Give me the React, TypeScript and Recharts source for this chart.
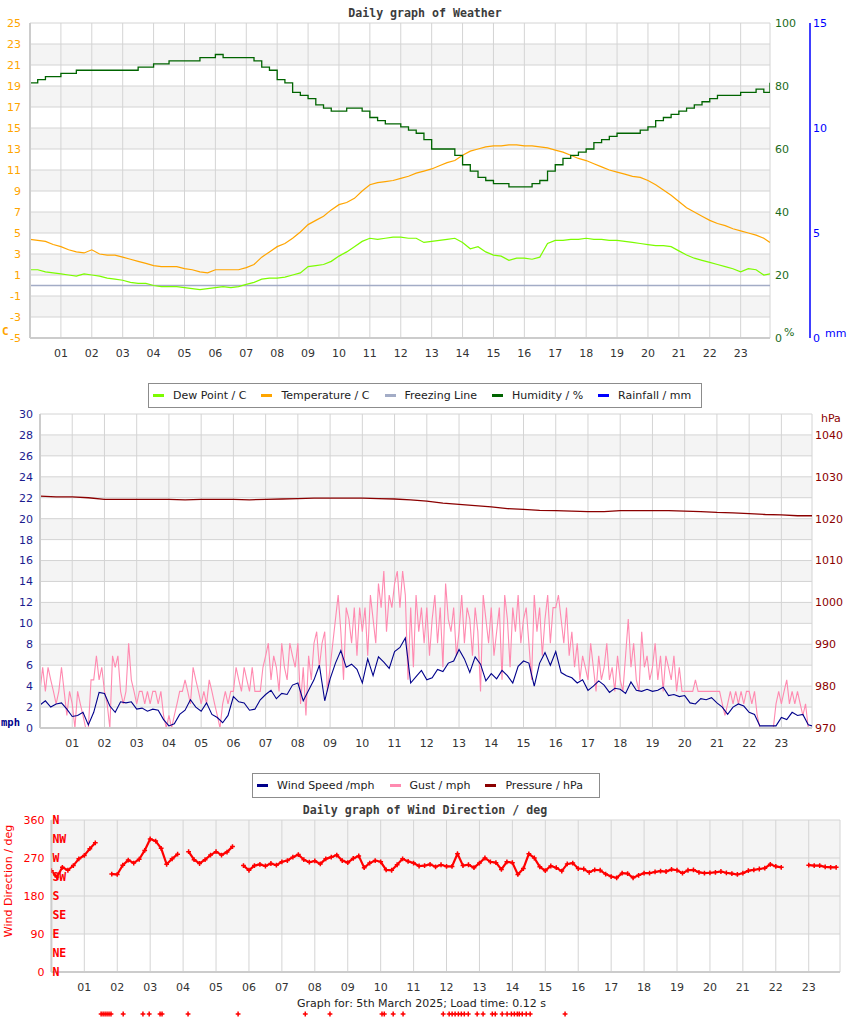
import React from 'react';
import { LineChart, Line, XAxis, YAxis, CartesianGrid, ReferenceLine, ScatterChart, Scatter, ComposedChart } from 'recharts';

// ---------- axis ticks & labels ----------
const END = 23.95;
const HOUR_TICKS = [1, 2, 3, 4, 5, 6, 7, 8, 9, 10, 11, 12, 13, 14, 15, 16, 17, 18, 19, 20, 21, 22, 23];
const HOUR_LABELS = ['01', '02', '03', '04', '05', '06', '07', '08', '09', '10', '11', '12', '13', '14', '15', '16', '17', '18', '19', '20', '21', '22', '23'];
const TEMP_TICKS = [-5, -3, -1, 1, 3, 5, 7, 9, 11, 13, 15, 17, 19, 21, 23, 25];
const HUM_TICKS = [0, 20, 40, 60, 80, 100];
const RAIN_TICKS = [0, 5, 10, 15];
const MPH_TICKS = [0, 2, 4, 6, 8, 10, 12, 14, 16, 18, 20, 22, 24, 26, 28, 30];
const HPA_TICKS = [970, 980, 990, 1000, 1010, 1020, 1030, 1040];
const DEG_TICKS = [0, 90, 180, 270, 360];
const COMPASS_TICKS = [0, 45, 90, 135, 180, 225, 270, 315, 360];
const COMPASS_LABELS = ['N', 'NE', 'E', 'SE', 'S', 'SW', 'W', 'NW', 'N'];

const WEATHER_LEGEND = [
  { label: 'Dew Point / C', color: '#7cfc00' },
  { label: 'Temperature / C', color: '#ffa500' },
  { label: 'Freezing Line', color: '#a3acc6' },
  { label: 'Humidity / %', color: '#006400' },
  { label: 'Rainfall / mm', color: '#0000ff' },
];
const WIND_LEGEND = [
  { label: 'Wind Speed /mph', color: '#00008b' },
  { label: 'Gust / mph', color: '#ff8ab0' },
  { label: 'Pressure / hPa', color: '#8b0000' },
];

// ---------- series (15 min steps) ----------
const temperature = [
  4.4, 4.3, 4.2, 3.9, 3.7, 3.4, 3.2, 3.1, 3.4, 3.0, 2.9, 2.9,
  2.7, 2.5, 2.3, 2.1, 1.9, 1.8, 1.8, 1.8, 1.6, 1.5, 1.3, 1.2,
  1.5, 1.5, 1.5, 1.5, 1.7, 2.0, 2.7, 3.2, 3.7, 4.0, 4.5, 5.1,
  5.8, 6.2, 6.6, 7.2, 7.7, 7.9, 8.3, 9.0, 9.6, 9.8, 9.9, 10.0,
  10.2, 10.4, 10.7, 10.9, 11.1, 11.4, 11.7, 11.9, 12.4, 12.8, 13.0, 13.2,
  13.3, 13.3, 13.4, 13.4, 13.3, 13.3, 13.2, 13.1, 12.9, 12.7, 12.4, 12.1,
  11.9, 11.6, 11.3, 11.0, 10.8, 10.6, 10.4, 10.3, 10.0, 9.6, 9.1, 8.6,
  8.0, 7.4, 7.0, 6.6, 6.2, 5.9, 5.7, 5.4, 5.2, 5.0, 4.8, 4.5, 4.1,
];
const dewPoint = [
  1.5, 1.5, 1.3, 1.2, 1.1, 1.0, 0.9, 1.1, 1.0, 0.9, 0.7, 0.6,
  0.5, 0.3, 0.2, 0.2, 0.0, -0.1, -0.1, -0.1, -0.2, -0.3, -0.4, -0.3,
  -0.2, -0.1, -0.2, -0.1, 0.1, 0.3, 0.6, 0.7, 0.7, 0.8, 1.0, 1.2,
  1.8, 1.9, 2.0, 2.3, 2.8, 3.2, 3.7, 4.2, 4.5, 4.4, 4.5, 4.6,
  4.6, 4.5, 4.5, 4.1, 4.2, 4.3, 4.4, 4.5, 4.1, 3.5, 3.7, 3.2,
  2.9, 2.8, 2.4, 2.6, 2.6, 2.5, 2.7, 4.0, 4.3, 4.3, 4.4, 4.4,
  4.5, 4.4, 4.4, 4.3, 4.3, 4.2, 4.1, 4.0, 3.9, 3.8, 3.8, 3.7,
  3.3, 2.9, 2.6, 2.4, 2.2, 2.0, 1.8, 1.6, 1.3, 1.6, 1.5, 1.0, 1.1,
];
const humidity = [
  81, 82, 83, 83, 84, 84, 85, 85, 85, 85, 85, 85,
  85, 85, 86, 86, 87, 87, 88, 88, 88, 88, 89, 89,
  90, 89, 89, 89, 89, 88, 86, 85, 82, 81, 78, 77,
  76, 74, 73, 72, 72, 73, 73, 72, 70, 69, 68, 68,
  67, 66, 65, 63, 60, 60, 60, 58, 55, 53, 51, 50,
  49, 49, 48, 48, 48, 49, 50, 53, 55, 57, 58, 59,
  60, 62, 63, 64, 65, 65, 65, 66, 67, 69, 70, 71,
  72, 73, 74, 75, 76, 77, 77, 77, 78, 78, 79, 78, 81,
];
// hourly
const rainfall = [0, 0, 0, 0, 0, 0, 0, 0, 0, 0, 0, 0, 0, 0, 0, 0, 0, 0, 0, 0, 0, 0, 0, 0, 0];

// ---------- wind (10 min steps) ----------
const windSpeed = [
  2.2, 2.6, 2.0, 2.3, 2.4, 1.8,
  1.1, 1.2, 1.5, 0.3, 1.5, 3.4,
  3.3, 2.1, 1.5, 2.5, 2.4, 2.5,
  1.8, 1.9, 1.6, 1.8, 1.7, 0.8,
  0.2, 0.4, 1.3, 1.7, 2.7, 2.0,
  1.6, 2.4, 1.3, 1.0, 0.5, 1.2,
  3.0, 2.5, 2.4, 1.7, 1.8, 2.7,
  3.2, 3.6, 2.8, 3.3, 3.2, 4.1,
  4.3, 2.6, 3.6, 4.6, 6.0, 2.6,
  4.7, 6.2, 7.4, 5.8, 6.1, 5.6,
  4.3, 6.6, 5.0, 6.8, 6.3, 5.7,
  7.3, 7.7, 8.6, 4.3, 4.9, 5.5,
  4.6, 4.8, 5.6, 5.4, 6.2, 6.4,
  7.5, 6.6, 5.3, 6.8, 6.1, 4.5,
  5.2, 4.7, 5.5, 5.0, 4.3, 5.9,
  6.4, 6.2, 4.0, 6.2, 7.2, 6.0,
  7.3, 5.3, 5.0, 4.8, 4.3, 4.6,
  3.6, 4.0, 4.5, 4.1, 3.4, 3.8,
  3.7, 3.3, 4.4, 3.6, 3.5, 3.7,
  3.5, 3.6, 3.9, 3.1, 3.2, 3.0,
  3.1, 2.4, 2.3, 2.8, 2.7, 2.9,
  2.4, 2.0, 1.3, 2.0, 2.3, 2.1,
  1.5, 1.3, 0.2, 0.2, 0.2, 0.2,
  1.0, 0.8, 1.5, 1.2, 1.3, 0.3,
  0.2,
];
// 5 min steps
const gust = [
  3.5, 5.8, 3.5, 5.8, 4.6, 3.5, 2.3, 3.5, 5.8, 3.5, 1.2, 3.5,
  2.3, 0, 3.5, 2.3, 1.2, 0, 0, 4.6, 4.6, 6.9, 4.6, 5.8,
  3.5, 2.3, 0, 6.9, 5.8, 6.9, 3.5, 2.3, 3.5, 8.1, 4.6, 3.5,
  2.3, 3.5, 3.5, 2.3, 3.5, 2.3, 3.5, 3.5, 2.3, 3.5, 1.2, 0,
  1.2, 0, 1.2, 2.3, 3.5, 3.5, 4.6, 3.5, 2.3, 5.8, 4.6, 3.5,
  2.3, 3.5, 2.3, 4.6, 3.5, 2.3, 1.2, 0, 2.3, 3.5, 2.3, 3.5,
  3.5, 5.8, 4.6, 3.5, 5.8, 4.6, 3.5, 5.8, 3.5, 3.5, 3.5, 5.8,
  6.9, 8.1, 4.6, 6.9, 5.8, 3.5, 8.1, 5.8, 4.6, 8.1, 6.9, 5.8,
  8.1, 2.3, 5.8, 1.2, 6.9, 4.6, 8.1, 9.2, 5.8, 8.1, 9.2, 3.5,
  5.8, 8.1, 10.4, 12.7, 9.2, 4.6, 11.5, 10.4, 8.1, 11.5, 6.9, 11.5,
  9.2, 11.5, 6.9, 12.7, 10.4, 8.1, 13.8, 11.5, 15.0, 9.2, 12.7, 11.5,
  13.8, 15.0, 11.5, 15.0, 12.7, 4.6, 11.5, 5.8, 12.7, 9.2, 11.5, 8.1,
  11.5, 6.9, 10.4, 12.7, 8.1, 11.5, 5.8, 13.8, 10.4, 9.2, 11.5, 6.9,
  9.2, 12.7, 8.1, 11.5, 10.4, 6.9, 11.5, 9.2, 3.5, 12.7, 10.4, 8.1,
  11.5, 6.9, 9.2, 11.5, 4.6, 12.7, 10.4, 5.8, 11.5, 9.2, 12.7, 8.1,
  10.4, 11.5, 8.1, 4.6, 12.7, 9.2, 11.5, 6.9, 10.4, 12.7, 8.1, 11.5,
  11.5, 12.7, 10.4, 8.1, 11.5, 6.9, 9.2, 5.8, 8.1, 4.6, 6.9, 5.8,
  4.6, 8.1, 5.8, 3.5, 6.9, 4.6, 5.8, 8.1, 4.6, 5.8, 3.5, 6.9,
  4.6, 3.5, 6.9, 10.4, 5.8, 8.1, 4.6, 3.5, 9.2, 5.8, 6.9, 4.6,
  5.8, 8.1, 4.6, 6.9, 3.5, 6.9, 5.8, 4.6, 6.9, 3.5, 5.8, 3.5,
  3.5, 3.5, 3.5, 3.5, 4.6, 3.5, 3.5, 3.5, 3.5, 3.5, 3.5, 3.5,
  3.5, 3.5, 2.3, 1.2, 2.3, 3.5, 2.3, 3.5, 2.3, 3.5, 2.3, 3.5,
  3.5, 2.3, 3.5, 1.2, 0, 0, 0, 0, 0, 0, 2.3, 3.5,
  2.3, 3.5, 4.6, 2.3, 3.5, 2.3, 3.5, 2.3, 1.2, 2.3, 0, 0,
];
// 30 min steps
const pressure = [
  1025.4, 1025.2, 1025.2, 1025.0, 1024.6, 1024.6, 1024.6, 1024.6, 1024.6, 1024.5,
  1024.6, 1024.6, 1024.6, 1024.5, 1024.6, 1024.7, 1024.8, 1024.9, 1024.9, 1024.9,
  1024.9, 1024.8, 1024.7, 1024.5, 1024.2, 1023.7, 1023.4, 1023.1, 1022.8, 1022.4,
  1022.2, 1022.0, 1021.9, 1021.8, 1021.7, 1021.7, 1021.9, 1021.9, 1021.9, 1021.9,
  1021.8, 1021.7, 1021.5, 1021.4, 1021.2, 1021.0, 1020.9, 1020.7, 1020.7,
];
// 10 min steps, null = no reading
const windDir = [
  240, 225, 248, 241, 252, 268,
  276, 292, 306, null, null, 232,
  231, 253, 265, 258, 267, 288,
  315, 310, 293, 255, 268, 279,
  null, 285, 266, 257, 266, 277,
  285, 277, 284, 297, null, 252,
  241, 252, 255, 251, 257, 253,
  261, 264, 272, 278, 266, 260,
  263, 256, 268, 272, 277, 264,
  259, 269, 275, 247, 258, 264,
  261, 242, 241, 254, 268, 262,
  258, 251, 252, 255, 249, 254,
  250, 250, 280, 252, 254, 247,
  258, 270, 261, 259, 243, 261,
  259, 231, 245, 280, 270, 249,
  240, 251, 247, 239, 256, 258,
  245, 244, 236, 242, 241, 232,
  226, 223, 234, 233, 223, 229,
  234, 234, 237, 239, 238, 243,
  241, 234, 241, 242, 236, 234,
  235, 236, 238, 235, 233, 231,
  234, 240, 242, 244, 246, 255,
  250, 248, null, null, null, null,
  253, 252, 252, 249, 248, 248,
];
// hours of the marks drawn beneath the direction graph
const calmHours = [
  1.51, 1.57, 1.63, 1.69, 1.75, 1.81, 2.18, 2.78, 2.97, 3.3, 3.36, 4.15, 5.67, 7.71, 8.46,
  10.04, 10.11, 10.38, 10.68, 11.9, 12.08, 12.17, 12.26, 12.36, 12.45, 12.54, 12.66, 12.93,
  13.11, 13.39, 13.48, 13.69, 13.84, 13.97, 14.06, 14.15, 14.21, 14.3, 14.42, 14.54, 15.6,
];

const toSeries = (vals: (number | null)[], step: number) =>
  vals.map((v, i) => ({ t: Math.min(i * step, END), v }));

const tempData = toSeries(temperature, 0.25);
const dewData = toSeries(dewPoint, 0.25);
const humData = toSeries(humidity, 0.25);
const rainData = toSeries(rainfall, 1);
const windData = toSeries(windSpeed, 1 / 6);
const gustData = toSeries(gust, 1 / 12);
const pressData = toSeries(pressure, 0.5);
const dirLine = toSeries(windDir, 1 / 6);
const dirData = dirLine.filter((p) => p.v !== null);
const calmData = calmHours.map((t) => ({ t, v: 0.5 }));

const FONT = 'DejaVu Sans, Verdana, sans-serif';
const MONO = 'DejaVu Sans Mono, monospace';
const hourFmt = (v: number) => HOUR_LABELS[HOUR_TICKS.indexOf(v)] ?? '';
const xTick = { fill: '#333', fontSize: 11, fontFamily: FONT };
const GRID = '#d4d4d4';
const BAND = ['#ffffff', '#f4f4f4'];

const Plus = (props: any) => {
  const { cx, cy } = props;
  if (cx == null || cy == null) return null;
  return <path d={`M${cx - 2.4},${cy}h4.8M${cx},${cy - 2.4}v4.8`} stroke="#ff0000" strokeWidth={1.5} fill="none" />;
};

function LegendBox({ items, left, top, width }: { items: { label: string; color: string }[]; left: number; top: number; width: number }) {
  return (
    <div
      style={{
        position: 'absolute', left, top, width, height: 25, boxSizing: 'border-box',
        border: '1px solid #8c8c8c', background: '#fff', display: 'flex', alignItems: 'center',
        paddingLeft: 4, fontFamily: FONT, fontSize: 11, color: '#222', whiteSpace: 'nowrap',
      }}
    >
      {items.map((it) => (
        <div key={it.label} style={{ display: 'flex', alignItems: 'center', marginRight: 15 }}>
          <span style={{ display: 'inline-block', width: 11, height: 3, background: it.color, marginRight: 9 }} />
          <span>{it.label}</span>
        </div>
      ))}
    </div>
  );
}

const abs = (left: number, top: number, extra: React.CSSProperties = {}): React.CSSProperties => ({
  position: 'absolute', left, top, ...extra,
});

export default function App() {
  return (
    <div style={{ position: 'absolute', left: 0, top: 0, width: 850, height: 1017, background: '#fff', fontFamily: FONT, overflow: 'hidden' }}>
      {/* title 1 */}
      <div style={abs(0, 6, { width: 850, textAlign: 'center', fontFamily: MONO, fontWeight: 'bold', fontSize: 11.6, lineHeight: '14px', color: '#3c3c3c' })}>
        Daily graph of Weather
      </div>

      {/* chart 1 */}
      <div style={abs(0, 0)}>
        <LineChart width={850} height={370} margin={{ top: 23, right: 0, bottom: 2, left: 0 }}>
          <CartesianGrid yAxisId="temp" stroke={GRID} horizontalFill={BAND} fillOpacity={1} />
          <XAxis type="number" dataKey="t" domain={[0, END]} ticks={HOUR_TICKS} interval={0} tickFormatter={hourFmt}
            tickLine={false} tickSize={0} tickMargin={11} height={30} axisLine={{ stroke: '#cccccc', strokeWidth: 2 }} tick={xTick} allowDataOverflow />
          <YAxis yAxisId="temp" domain={[-5, 25]} ticks={TEMP_TICKS} interval={0} width={30} tickLine={false} tickSize={0} tickMargin={9}
            axisLine={{ stroke: '#cccccc', strokeWidth: 2 }} tick={{ fill: '#ffa500', fontSize: 11, fontFamily: FONT }} allowDataOverflow />
          <YAxis yAxisId="hum" orientation="right" domain={[0, 100]} ticks={HUM_TICKS} interval={0} width={40} tickLine={false} tickSize={0}
            tickMargin={5} axisLine={false} tick={{ fill: '#1b6b1b', fontSize: 11, fontFamily: FONT }} />
          <YAxis yAxisId="rain" orientation="right" domain={[0, 15]} ticks={RAIN_TICKS} interval={0} width={40} tickLine={false} tickSize={0}
            tickMargin={3} axisLine={{ stroke: '#0000ff', strokeWidth: 1.5 }} tick={{ fill: '#0000ff', fontSize: 11, fontFamily: FONT }} />
          <ReferenceLine yAxisId="temp" y={0} stroke="#a3acc6" strokeWidth={1.3} />
          <Line yAxisId="temp" data={dewData} dataKey="v" stroke="#7cfc00" strokeWidth={1.2} dot={false} isAnimationActive={false} />
          <Line yAxisId="temp" data={tempData} dataKey="v" stroke="#ffa500" strokeWidth={1.2} dot={false} isAnimationActive={false} />
          <Line yAxisId="hum" type="stepAfter" data={humData} dataKey="v" stroke="#006400" strokeWidth={1.3} dot={false} isAnimationActive={false} />
          <Line yAxisId="rain" data={rainData} dataKey="v" stroke="#0000ff" strokeWidth={2} dot={false} isAnimationActive={false} />
        </LineChart>
      </div>
      <div style={abs(2, 325, { color: '#ffa500', fontWeight: 'bold', fontSize: 11, fontFamily: MONO })}>C</div>
      <div style={abs(784, 326, { color: '#1b6b1b', fontSize: 11 })}>%</div>
      <div style={abs(825, 327, { color: '#0000ff', fontSize: 11 })}>mm</div>

      {/* chart 2 */}
      <div style={abs(0, 400)}>
        <LineChart width={850} height={360} margin={{ top: 14, right: 0, bottom: 2, left: 0 }}>
          <CartesianGrid yAxisId="mph" stroke={GRID} horizontalFill={BAND} fillOpacity={1} />
          <XAxis type="number" dataKey="t" domain={[0, END]} ticks={HOUR_TICKS} interval={0} tickFormatter={hourFmt}
            tickLine={false} tickSize={0} tickMargin={11} height={30} axisLine={{ stroke: '#cccccc', strokeWidth: 2 }} tick={xTick} allowDataOverflow />
          <YAxis yAxisId="mph" domain={[0, 30]} ticks={MPH_TICKS} interval={0} width={40} tickLine={false} tickSize={0} tickMargin={7}
            axisLine={{ stroke: '#cccccc', strokeWidth: 2 }} tick={{ fill: '#1b1b8f', fontSize: 11, fontFamily: FONT }} />
          <YAxis yAxisId="hpa" orientation="right" domain={[970, 1045]} ticks={HPA_TICKS} interval={0} width={38} tickLine={false} tickSize={0}
            tickMargin={3} axisLine={false} tick={{ fill: '#8b0000', fontSize: 11, fontFamily: FONT }} />
          <Line yAxisId="mph" data={gustData} dataKey="v" stroke="#ff8ab0" strokeWidth={1.1} dot={false} isAnimationActive={false} />
          <Line yAxisId="mph" data={windData} dataKey="v" stroke="#00008b" strokeWidth={1.1} dot={false} isAnimationActive={false} />
          <Line yAxisId="hpa" data={pressData} dataKey="v" stroke="#8b0000" strokeWidth={1.3} dot={false} isAnimationActive={false} />
        </LineChart>
      </div>
      <div style={abs(1, 716, { color: '#00008b', fontWeight: 'bold', fontSize: 10.5, fontFamily: MONO })}>mph</div>
      <div style={abs(821, 412, { color: '#8b0000', fontSize: 11 })}>hPa</div>

      <LegendBox items={WEATHER_LEGEND} left={148} top={383} width={554} />
      <LegendBox items={WIND_LEGEND} left={252} top={773} width={348} />

      {/* title 3 */}
      <div style={abs(0, 803, { width: 850, textAlign: 'center', fontFamily: MONO, fontWeight: 'bold', fontSize: 11.6, lineHeight: '14px', color: '#3c3c3c' })}>
        Daily graph of Wind Direction / deg
      </div>

      {/* chart 3 */}
      <div style={abs(0, 800)}>
        <ComposedChart width={850} height={205} margin={{ top: 20, right: 10, bottom: 3, left: 0 }}>
          <CartesianGrid yAxisId="deg" stroke={GRID} horizontalFill={['#f4f4f4', '#f4f4f4', '#f4f4f4', '#ffffff']} fillOpacity={1} />
          <XAxis type="number" dataKey="t" domain={[0, END]} ticks={HOUR_TICKS} interval={0} tickFormatter={hourFmt}
            tickLine={false} tickSize={0} tickMargin={11} height={30} axisLine={{ stroke: '#cccccc', strokeWidth: 2 }} tick={xTick} allowDataOverflow />
          <YAxis yAxisId="deg" type="number" domain={[0, 360]} ticks={DEG_TICKS} interval={0} width={51.4} tickLine={false} tickSize={0}
            tickMargin={7} axisLine={{ stroke: '#cccccc', strokeWidth: 2 }} tick={{ fill: '#ff0000', fontSize: 11, fontFamily: FONT }}
            label={{ value: 'Wind Direction / deg', angle: -90, position: 'insideLeft', dx: 3, dy: -15, fill: '#ff0000', fontSize: 11, fontFamily: FONT, style: { textAnchor: 'middle' } }} />
          <YAxis yAxisId="compass" type="number" domain={[0, 360]} ticks={COMPASS_TICKS} interval={0} mirror width={1} tickLine={false} tickSize={0}
            tickMargin={1} axisLine={false} tickFormatter={(v: number) => COMPASS_LABELS[COMPASS_TICKS.indexOf(v)]}
            tick={{ fill: '#ff0000', fontSize: 11.5, fontWeight: 'bold', fontFamily: MONO }} />
          <Line yAxisId="deg" data={dirLine} dataKey="v" stroke="#ff0000" strokeWidth={2.2} dot={false} connectNulls={false} isAnimationActive={false} />
          <Scatter yAxisId="compass" data={dirData} dataKey="v" shape={Plus} isAnimationActive={false} />
        </ComposedChart>
      </div>

      {/* footer */}
      <div style={abs(0, 997, { width: 843, textAlign: 'center', fontSize: 11, color: '#222', lineHeight: '14px' })}>
        Graph for: 5th March 2025; Load time: 0.12 s
      </div>
      <div style={abs(0, 1008)}>
        <ScatterChart width={850} height={12} margin={{ top: 0, right: 10, bottom: 0, left: 51.4 }}>
          <XAxis type="number" dataKey="t" domain={[0, END]} hide />
          <YAxis type="number" dataKey="v" domain={[0, 1]} hide />
          <Scatter data={calmData} dataKey="v" shape={Plus} isAnimationActive={false} />
        </ScatterChart>
      </div>
    </div>
  );
}
